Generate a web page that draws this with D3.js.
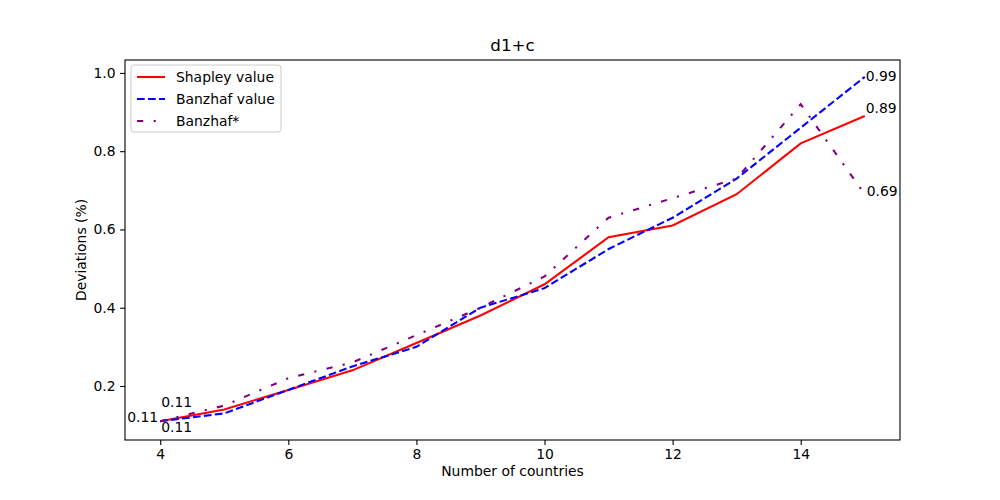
<!DOCTYPE html>
<html>
<head>
<meta charset="utf-8">
<script src="https://cdn.jsdelivr.net/npm/d3@7"></script>
<style>
  html, body { margin: 0; padding: 0; background: #fff; }
  text { font-family: "DejaVu Sans", sans-serif; }
</style>
</head>
<body>
<svg id="chart" width="1000" height="500"></svg>
<script>
const countries = [4, 5, 6, 7, 8, 9, 10, 11, 12, 13, 14, 15];
const shapley  = [0.11, 0.14, 0.19, 0.24, 0.31, 0.38, 0.46, 0.58, 0.61, 0.69, 0.82, 0.89];
const banzhaf  = [0.11, 0.13, 0.19, 0.25, 0.30, 0.40, 0.45, 0.55, 0.63, 0.73, 0.86, 0.99];
const banzhafStar = [0.11, 0.15, 0.22, 0.26, 0.33, 0.40, 0.48, 0.63, 0.68, 0.73, 0.92, 0.69];
const seriesNames = ["Shapley value", "Banzhaf value", "Banzhaf*"];
const xTicks = [4, 6, 8, 10, 12, 14];
const yTicks = [0.2, 0.4, 0.6, 0.8, 1.0];
const title = "d1+c";
const xLabel = "Number of countries";
const yLabel = "Deviations (%)";

const svg = d3.select("#chart");
const L = 125, R = 900, T = 60, B = 440;

const x = d3.scaleLinear().domain([3.45, 15.55]).range([L, R]);
const y = d3.scaleLinear().domain([0.062, 1.033]).range([B, T]);

const styles = [
  { color: "red", dash: null },
  { color: "blue", dash: "7.7,3.3" },
  { color: "purple", dash: "6.25,10.4,2.1,10.4" }
];
// label offsets: [start dx, start dy, start anchor, end dx, end dy]
const labelPos = [
  { sdx: 1, sdy: -14, sa: "start", edx: 1, edy: -3 },
  { sdx: 1, sdy: 11, sa: "start", edx: 1, edy: 4 },
  { sdx: -2, sdy: 1, sa: "end", edx: 2, edy: 2 }
];
const allSeries = [shapley, banzhaf, banzhafStar];

// axes
const xAxis = d3.axisBottom(x).tickValues(xTicks).tickSize(4.9).tickPadding(4.5).tickFormat(d3.format("d"));
const yAxis = d3.axisLeft(y).tickValues(yTicks).tickSize(4.9).tickPadding(4.5).tickFormat(d3.format(".1f"));

const gx = svg.append("g").attr("transform", `translate(0,${B})`).call(xAxis);
const gy = svg.append("g").attr("transform", `translate(${L},0)`).call(yAxis);
[gx, gy].forEach(g => {
  g.select(".domain").remove();
  g.selectAll(".tick line").attr("stroke", "#000").attr("stroke-width", 1.1);
  g.selectAll(".tick text").attr("font-size", "13.9px").attr("fill", "#000")
    .attr("font-family", "DejaVu Sans, sans-serif");
});

// lines
const clipId = "plotclip";
svg.append("clipPath").attr("id", clipId).append("rect")
  .attr("x", L).attr("y", T).attr("width", R - L).attr("height", B - T);

allSeries.forEach((vals, i) => {
  const line = d3.line().x((d, j) => x(countries[j])).y(d => y(d));
  svg.append("path")
    .datum(vals)
    .attr("d", line)
    .attr("fill", "none")
    .attr("stroke", styles[i].color)
    .attr("stroke-width", 2.08)
    .attr("stroke-dasharray", styles[i].dash)
    .attr("clip-path", `url(#${clipId})`);
});

// value labels at start and end
allSeries.forEach((vals, i) => {
  const p = labelPos[i];
  const n = vals.length - 1;
  svg.append("text")
    .attr("x", x(countries[0]) + p.sdx)
    .attr("y", y(vals[0]) + p.sdy)
    .attr("text-anchor", p.sa)
    .attr("font-size", "13.9px")
    .text(d3.format(".2f")(vals[0]));
  svg.append("text")
    .attr("x", x(countries[n]) + p.edx)
    .attr("y", y(vals[n]) + p.edy)
    .attr("text-anchor", "start")
    .attr("font-size", "13.9px")
    .text(d3.format(".2f")(vals[n]));
});

// frame
svg.append("rect")
  .attr("x", L).attr("y", T).attr("width", R - L).attr("height", B - T)
  .attr("fill", "none").attr("stroke", "#000").attr("stroke-width", 1.1);

// title & labels
svg.append("text").attr("x", (L + R) / 2).attr("y", 51)
  .attr("text-anchor", "middle").attr("font-size", "16.7px").text(title);
svg.append("text").attr("x", (L + R) / 2).attr("y", 476)
  .attr("text-anchor", "middle").attr("font-size", "13.9px").text(xLabel);
svg.append("text")
  .attr("transform", `translate(86,${(T + B) / 2}) rotate(-90)`)
  .attr("text-anchor", "middle").attr("font-size", "13.9px").text(yLabel);

// legend
const lg = svg.append("g").attr("transform", `translate(${L + 6},${T + 5})`);
lg.append("rect").attr("x", 0).attr("y", 0).attr("width", 150).attr("height", 67)
  .attr("rx", 3).attr("fill", "#fff").attr("fill-opacity", 0.8)
  .attr("stroke", "#ccc").attr("stroke-width", 1);
seriesNames.forEach((name, i) => {
  const yy = 12 + i * 22;
  lg.append("line").attr("x1", 6).attr("x2", 34).attr("y1", yy).attr("y2", yy)
    .attr("stroke", styles[i].color).attr("stroke-width", 2.08)
    .attr("stroke-dasharray", styles[i].dash);
  lg.append("text").attr("x", 45).attr("y", yy + 5).attr("font-size", "13.9px").text(name);
});
</script>
</body>
</html>
